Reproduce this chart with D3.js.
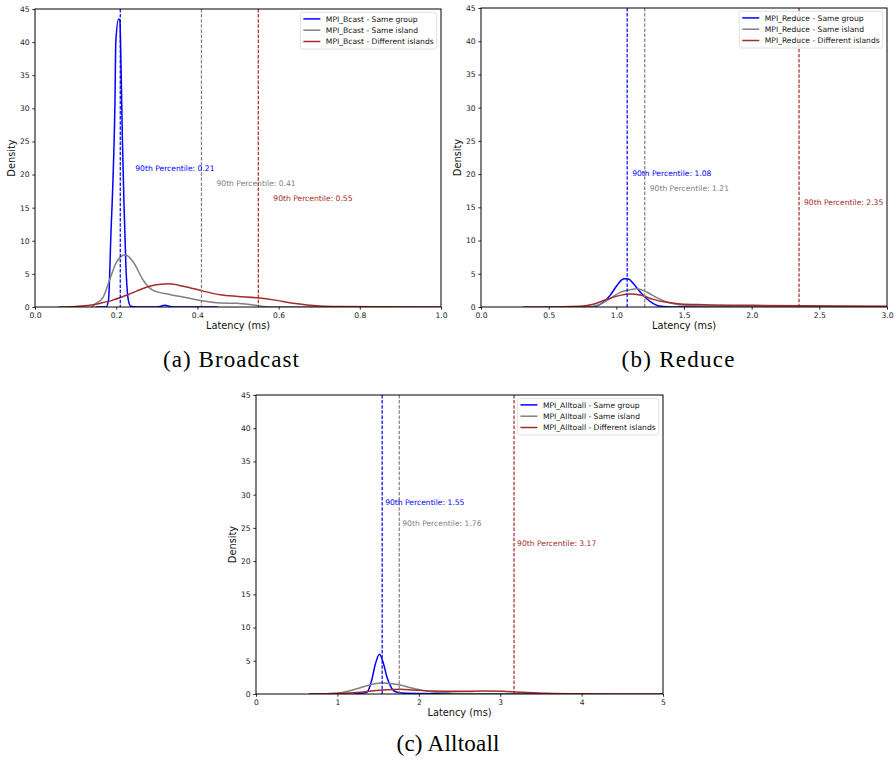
<!DOCTYPE html>
<html>
<head>
<meta charset="utf-8">
<script src="https://cdn.jsdelivr.net/npm/d3@7"></script>
<style>
  body { margin: 0; background: #fff; }
  svg { display: block; }
  .tick text { font-family: "DejaVu Sans", sans-serif; font-size: 7.6px; fill: #222; }
  .tick line { stroke: #000; stroke-width: 0.8; }
</style>
</head>
<body>
<svg id="chart" width="894" height="760"></svg>
<script>
// KDE curves, [latency ms, density]
var bcastGroup = [[0.15,0],[0.175,0],[0.181,1],[0.187,11],[0.193,21],[0.197,31],[0.199,40],[0.206,43.5],[0.209,43.3],[0.212,36],[0.215,26],[0.219,16],[0.224,6],[0.23,1],[0.236,0.1],[0.25,0],[0.3,0],[0.32,0.25],[0.34,0],[0.45,0]];
var bcastIsland = [[0.14,0],[0.144,0.25],[0.168,1.5],[0.185,4.3],[0.201,6.8],[0.222,7.9],[0.242,6.8],[0.267,4.0],[0.291,2.5],[0.332,1.9],[0.374,1.4],[0.415,0.9],[0.456,0.6],[0.497,0.55],[0.538,0.3],[0.571,0.05],[0.6,0.01],[0.7,0]];
var bcastIslands = [[0.058,0],[0.1,0.08],[0.135,0.25],[0.16,0.55],[0.19,1.0],[0.22,1.65],[0.25,2.4],[0.28,3.1],[0.31,3.45],[0.33,3.5],[0.365,3.15],[0.415,2.4],[0.456,1.85],[0.5,1.6],[0.546,1.4],[0.595,1.0],[0.636,0.55],[0.67,0.3],[0.7,0.15],[0.75,0.06],[0.85,0.02],[1.0,0]];

var reduceGroup = [[0.6,0],[0.82,0.02],[0.856,0.15],[0.905,0.75],[0.954,1.75],[1.003,3.2],[1.04,4.1],[1.06,4.25],[1.09,4.2],[1.127,3.5],[1.176,2.25],[1.225,1.25],[1.274,0.5],[1.324,0.1],[1.37,0.02],[1.5,0],[2.0,0]];
var reduceIsland = [[0.5,0],[0.8,0.05],[0.88,0.4],[0.954,1.25],[1.028,2.2],[1.077,2.5],[1.151,2.75],[1.225,2.25],[1.299,1.4],[1.373,0.75],[1.447,0.4],[1.546,0.22],[1.7,0.15],[2.0,0.12],[2.5,0.1],[3.0,0.08]];
var reduceIslands = [[0.31,0],[0.6,0.02],[0.732,0.1],[0.83,0.4],[0.929,1.15],[1.028,1.75],[1.102,1.95],[1.176,1.8],[1.274,1.15],[1.373,0.7],[1.472,0.45],[1.644,0.35],[2.014,0.25],[2.38,0.2],[2.97,0.1],[3.0,0.1]];

var alltoallGroup = [[1.2,0],[1.259,0.03],[1.362,0.25],[1.422,2.1],[1.464,4.4],[1.517,6.0],[1.566,4.6],[1.607,2.6],[1.668,0.85],[1.73,0.25],[1.85,0.1],[2.2,0.05],[3.0,0.02],[3.5,0]];
var alltoallIsland = [[0.65,0],[0.997,0.1],[1.157,0.5],[1.32,1.1],[1.443,1.5],[1.545,1.65],[1.668,1.55],[1.77,1.35],[1.893,0.95],[2.036,0.55],[2.18,0.3],[2.38,0.15],[2.7,0.05],[3.0,0.01],[3.3,0]];
var alltoallIslands = [[0.65,0],[1.04,0.1],[1.28,0.25],[1.443,0.5],[1.607,0.65],[1.77,0.7],[1.934,0.6],[2.18,0.45],[2.465,0.4],[2.79,0.45],[3.04,0.4],[3.28,0.25],[3.57,0.1],[4.0,0.03],[5.0,0]];

// 90th percentiles per panel
var bcastP90 = [0.21, 0.41, 0.55];
var reduceP90 = [1.08, 1.21, 2.35];
var alltoallP90 = [1.55, 1.76, 3.17];

var seriesNames = ["Same group", "Same island", "Different islands"];
var colors = ["#0000ff", "#808080", "#a52a2a"];
var yTicks = [0, 5, 10, 15, 20, 25, 30, 35, 40, 45];

var panels = [
  { op: "MPI_Bcast", curves: [bcastGroup, bcastIsland, bcastIslands], p90: bcastP90,
    xmax: 1.0, xticks: [0, 0.2, 0.4, 0.6, 0.8, 1.0], fmt: d3.format(".1f"),
    box: {x: 35, y: 9, w: 406, h: 298}, labelY: [21, 18.7, 16.4], caption: "(a) Broadcast", cap: [231, 367, 136] },
  { op: "MPI_Reduce", curves: [reduceGroup, reduceIsland, reduceIslands], p90: reduceP90,
    xmax: 3.0, xticks: [0, 0.5, 1.0, 1.5, 2.0, 2.5, 3.0], fmt: d3.format(".1f"),
    box: {x: 481, y: 8, w: 406, h: 299}, labelY: [20.1, 17.9, 15.7], caption: "(b) Reduce", cap: [678, 367, 113] },
  { op: "MPI_Alltoall", curves: [alltoallGroup, alltoallIsland, alltoallIslands], p90: alltoallP90,
    xmax: 5, xticks: [0, 1, 2, 3, 4, 5], fmt: d3.format("d"),
    box: {x: 256, y: 395, w: 407, h: 299}, labelY: [28.9, 25.7, 22.6], caption: "(c) Alltoall", cap: [448, 751, 103] }
];

var svg = d3.select("#chart");

panels.forEach(function(p) {
  var b = p.box;
  var x = d3.scaleLinear().domain([0, p.xmax]).range([0, b.w]);
  var y = d3.scaleLinear().domain([0, 45]).range([b.h, 0]);
  var g = svg.append("g").attr("transform", "translate(" + b.x + "," + b.y + ")");

  var clipId = "clip" + p.op;
  g.append("clipPath").attr("id", clipId).append("rect").attr("width", b.w).attr("height", b.h);

  // axes
  var xa = g.append("g").attr("transform", "translate(0," + b.h + ")")
    .call(d3.axisBottom(x).tickValues(p.xticks).tickFormat(p.fmt).tickSize(2.7).tickPadding(2.7).tickSizeOuter(0));
  xa.select(".domain").remove();
  var ya = g.append("g")
    .call(d3.axisLeft(y).tickValues(yTicks).tickSize(2.7).tickPadding(2.7).tickSizeOuter(0));
  ya.select(".domain").remove();

  var plot = g.append("g").attr("clip-path", "url(#" + clipId + ")");

  // curves
  var line = d3.line().x(function(d) { return x(d[0]); }).y(function(d) { return y(d[1]); })
    .curve(d3.curveMonotoneX);
  p.curves.forEach(function(c, i) {
    plot.append("path").datum(c).attr("d", line)
      .attr("fill", "none").attr("stroke", colors[i]).attr("stroke-width", 1.5);
  });

  // percentile markers, label nudged right of the line
  var nudge = x(0.037 * p.xmax / p.xmax) - x(0);
  p.p90.forEach(function(v, i) {
    plot.append("line").attr("x1", x(v)).attr("x2", x(v)).attr("y1", 0).attr("y2", b.h)
      .attr("stroke", colors[i]).attr("stroke-width", 1.2).attr("stroke-dasharray", "3.5,1.6");
    g.append("text").attr("x", x(v) + nudge)
      .attr("y", y(p.labelY[i])).attr("dy", "0.35em")
      .attr("font-family", "DejaVu Sans, sans-serif").attr("font-size", 7.6)
      .attr("fill", colors[i])
      .text("90th Percentile: " + v.toFixed(2));
  });

  // frame
  g.append("rect").attr("width", b.w).attr("height", b.h)
    .attr("fill", "none").attr("stroke", "#000").attr("stroke-width", 1);

  // axis labels
  g.append("text").attr("x", b.w / 2).attr("y", b.h + 22).attr("text-anchor", "middle")
    .attr("font-family", "DejaVu Sans, sans-serif").attr("font-size", 9.8).attr("fill", "#111")
    .text("Latency (ms)");
  g.append("text").attr("transform", "translate(-20," + (b.h / 2) + ") rotate(-90)")
    .attr("text-anchor", "middle")
    .attr("font-family", "DejaVu Sans, sans-serif").attr("font-size", 9.8).attr("fill", "#111")
    .text("Density");

  // legend
  var lg = g.append("g");
  var lbox = lg.append("rect").attr("rx", 2).attr("ry", 2)
    .attr("fill", "#fff").attr("fill-opacity", 0.8).attr("stroke", "#d8d8d8").attr("stroke-width", 0.8);
  var maxW = 0;
  seriesNames.forEach(function(n, i) {
    var cy = 6.6 + i * 11.3;
    lg.append("line").attr("x1", 3).attr("x2", 20).attr("y1", cy).attr("y2", cy)
      .attr("stroke", colors[i]).attr("stroke-width", 1.5);
    var t = lg.append("text").attr("x", 25.5).attr("y", cy).attr("dy", "0.35em")
      .attr("font-family", "DejaVu Sans, sans-serif").attr("font-size", 7.6).attr("fill", "#111")
      .text(p.op + " - " + n);
    maxW = Math.max(maxW, t.node().getComputedTextLength());
  });
  var lw = 25.5 + maxW + 3;
  lbox.attr("width", lw).attr("height", 36.7);
  lg.attr("transform", "translate(" + (b.w - 4.3 - lw) + ",3.3)");

  // caption
  svg.append("text").attr("x", p.cap[0]).attr("y", p.cap[1]).attr("text-anchor", "middle")
    .attr("font-family", "Liberation Serif, serif").attr("font-size", 23)
    .attr("textLength", p.cap[2]).attr("lengthAdjust", "spacing").attr("fill", "#000")
    .text(p.caption);
});
</script>
</body>
</html>
